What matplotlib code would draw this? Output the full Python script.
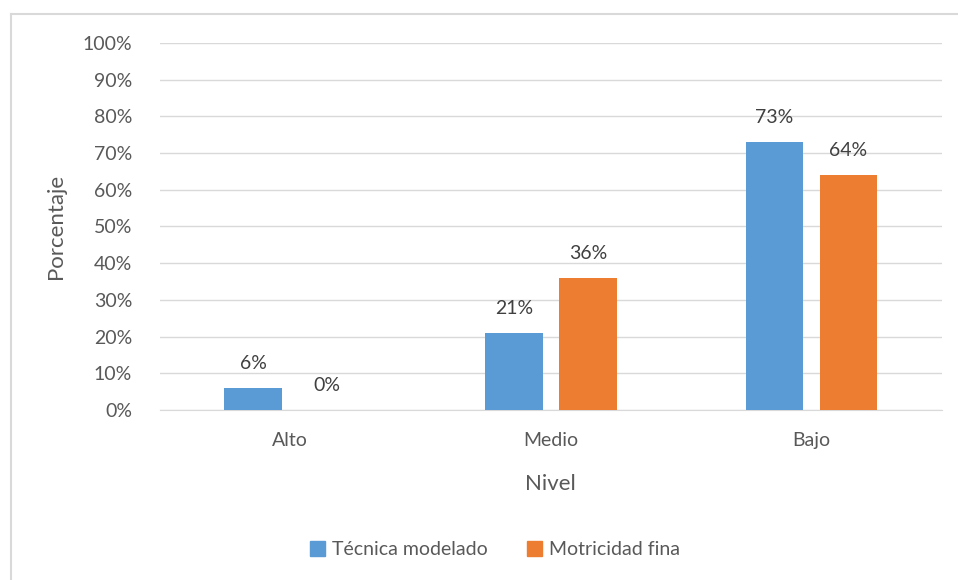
import matplotlib
matplotlib.use("Agg")
import matplotlib.pyplot as plt
from matplotlib.lines import Line2D
from matplotlib.patches import Patch
import numpy as np

plt.rcParams['font.family'] = ['Lato', 'DejaVu Sans']

categories = ["Alto", "Medio", "Bajo"]
series_names = ["Técnica modelado", "Motricidad fina"]
tecnica = [6, 21, 73]
motricidad = [0, 36, 64]
colors = ["#5B9BD5", "#ED7D31"]
text_color = "#595959"

fig = plt.figure(figsize=(9.58, 5.8), dpi=100)
ax = fig.add_axes([0.167, 0.293, 0.816, 0.633])

x = np.arange(len(categories))
w = 0.222
off = 0.142
b1 = ax.bar(x - off, tecnica, w, color=colors[0], label=series_names[0], zorder=3)
b2 = ax.bar(x + off, motricidad, w, color=colors[1], label=series_names[1], zorder=3)

for bars, vals in ((b1, tecnica), (b2, motricidad)):
    for rect, v in zip(bars, vals):
        ax.text(rect.get_x() + rect.get_width() / 2, v + 4.3, f"{v}%",
                ha="center", va="bottom", fontsize=14, color="#404040")

ax.set_xlim(-0.5, 2.5)
ax.set_ylim(0, 100)
ax.set_yticks(np.arange(0, 101, 10))
ax.set_yticklabels([f"{t}%" for t in range(0, 101, 10)])
ax.set_xticks(x)
ax.set_xticklabels(categories)
ax.tick_params(axis="both", length=0, labelsize=14, colors=text_color)
ax.tick_params(axis="y", pad=20)
ax.tick_params(axis="x", pad=16)
ax.grid(axis="y", color="#D9D9D9", linewidth=1, zorder=0)
for s in ["top", "right", "left"]:
    ax.spines[s].set_visible(False)
ax.spines["bottom"].set_color("#D9D9D9")
ax.set_ylabel("Porcentaje", fontsize=16, color=text_color, labelpad=12)
ax.set_xlabel("Nivel", fontsize=16, color=text_color, labelpad=18)

handles = [Patch(color=colors[0]), Patch(color=colors[1])]
fig.legend(handles, series_names, loc="center", bbox_to_anchor=(0.517, 0.052),
           ncol=2, frameon=False, fontsize=14, handlelength=0.75, handleheight=0.75,
           columnspacing=2.0, handletextpad=0.4, labelcolor=text_color)

fig.add_artist(Line2D([11/958, 11/958], [0, 1 - 14/580], transform=fig.transFigure,
                      color="#D9D9D9", linewidth=1.5))
fig.add_artist(Line2D([11/958, 1], [1 - 14/580, 1 - 14/580], transform=fig.transFigure,
                      color="#D9D9D9", linewidth=1.5))

fig.savefig("out.png", dpi=100)
